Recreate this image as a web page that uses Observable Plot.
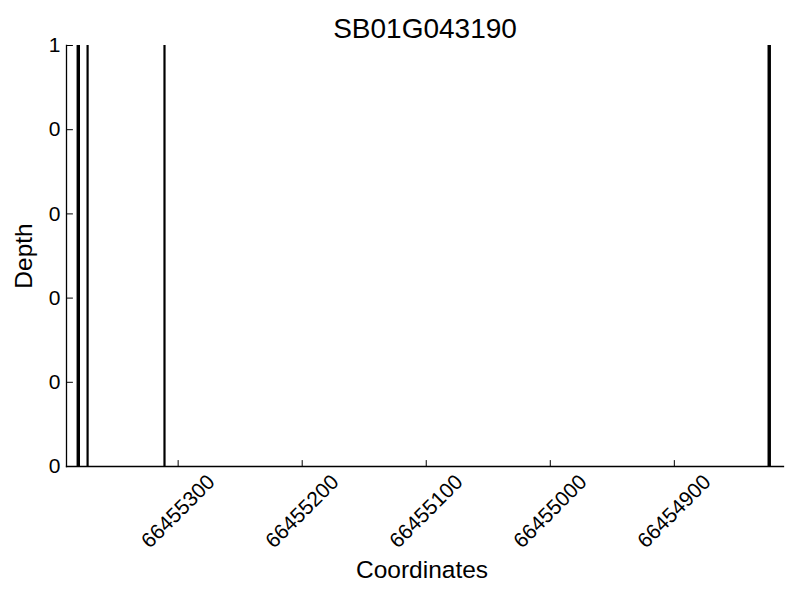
<!DOCTYPE html>
<html>
<head>
<meta charset="utf-8">
<script src="https://cdn.jsdelivr.net/npm/d3@7"></script>
<script src="https://cdn.jsdelivr.net/npm/@observablehq/plot@0.6"></script>
<style>
  html, body { margin: 0; padding: 0; background: #fff; }
  svg { font-family: "Liberation Sans", Arial, Helvetica, sans-serif; }
</style>
</head>
<body>
<div id="chart"></div>
<script>
const chartTitle = "SB01G043190";
const xLabel = "Coordinates";
const yLabel = "Depth";
// depth bars: genomic coordinate and depth value
const positions = [66455381, 66455380, 66455373, 66455311, 66454824, 66454823];
const depths = [1, 1, 1, 1, 1, 1];
const xDomain = [66455390, 66454812];
const xTicks = [66455300, 66455200, 66455100, 66455000, 66454900];
const xTickLabels = ["66455300", "66455200", "66455100", "66455000", "66454900"];
const yTicks = [0, 0.2, 0.4, 0.6, 0.8, 1];
const yTickLabels = ["0", "0", "0", "0", "0", "1"];

const bars = positions.map((p, i) => ({pos: p, depth: depths[i]}));
const xT = xTicks.map((v, i) => ({v, label: xTickLabels[i]}));
const yT = yTicks.map((v, i) => ({v, label: yTickLabels[i]}));
const tickShape = {draw(ctx, l) { ctx.moveTo(0, 0); ctx.lineTo(0, -l); }};

const chart = Plot.plot({
  width: 800,
  height: 600,
  marginLeft: 66,
  marginRight: 17,
  marginTop: 45,
  marginBottom: 134,
  style: {fontFamily: '"Liberation Sans", Arial, sans-serif', background: "#fff", color: "#000"},
  x: {domain: xDomain, axis: null},
  y: {domain: [0, 1], axis: null},
  marks: [
    Plot.ruleX(bars, {x: "pos", y1: 0, y2: "depth", stroke: "#000", strokeWidth: 2.2}),
    Plot.frame({anchor: "left", stroke: "#000", strokeWidth: 1.3}),
    Plot.frame({anchor: "bottom", stroke: "#000", strokeWidth: 1.3}),
    Plot.vector(xT, {x: "v", frameAnchor: "bottom", length: 6, rotate: 0, anchor: "start", shape: tickShape, stroke: "#000", strokeWidth: 1}),
    Plot.vector(yT, {y: "v", frameAnchor: "left", length: 6, rotate: 90, anchor: "start", shape: tickShape, stroke: "#000", strokeWidth: 1}),
    Plot.text(xT, {x: "v", text: "label", frameAnchor: "bottom", dy: 45, rotate: -45, textAnchor: "middle", lineAnchor: "middle", fontSize: 21, fill: "#000"}),
    Plot.text(yT, {y: "v", text: "label", frameAnchor: "left", dx: -6, textAnchor: "end", lineAnchor: "middle", fontSize: 21, fill: "#000"}),
    Plot.text([chartTitle], {frameAnchor: "top", dy: -8, lineAnchor: "bottom", textAnchor: "middle", fontSize: 28, fill: "#000"}),
    Plot.text([xLabel], {frameAnchor: "bottom", dx: -3, dy: 111, lineAnchor: "bottom", textAnchor: "middle", fontSize: 24.5, fill: "#000"}),
    Plot.text([yLabel], {frameAnchor: "left", dx: -35, rotate: -90, lineAnchor: "bottom", textAnchor: "middle", fontSize: 24.5, fill: "#000"})
  ]
});
document.getElementById("chart").appendChild(chart);
</script>
</body>
</html>
